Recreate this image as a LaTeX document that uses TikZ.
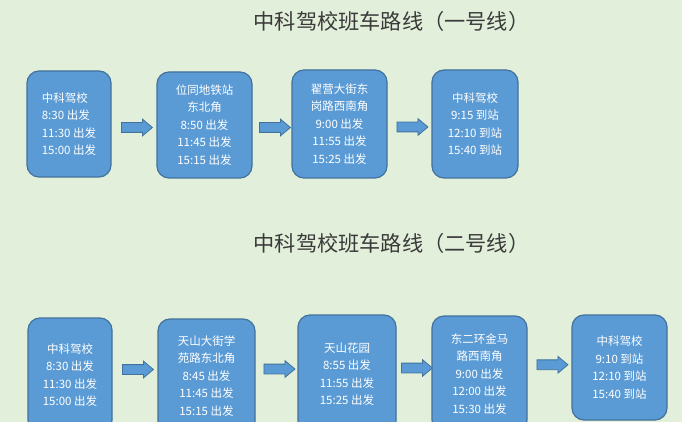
\documentclass[tikz,border=0pt]{standalone}
\usepackage{fontspec}
\setmainfont{Noto Sans CJK SC}
\usetikzlibrary{calc,shapes.arrows}
\definecolor{paper}{HTML}{E2EFDA}
\definecolor{boxblue}{HTML}{5B9BD5}
\definecolor{boxedge}{HTML}{41719C}
\definecolor{ink}{HTML}{3A3A3A}

\begin{document}
\begin{tikzpicture}[x=1pt,y=-1pt,
  stopbox/.style={draw=boxedge,line width=1.2pt,fill=boxblue,rounded corners=12pt,text=white,align=center,inner sep=0pt,font=\fontsize{11.5}{17.5}\selectfont},
  hop/.style={single arrow,draw=boxedge,line width=0.8pt,fill=boxblue,inner xsep=0pt,inner ysep=4.5pt,minimum height=31pt,single arrow head extend=3.5pt,single arrow tip angle=80},
  headline/.style={text=ink,font=\fontsize{21.2}{25}\selectfont}]
  \fill[paper] (0,0) rectangle (682,422);
  \useasboundingbox (0,0) rectangle (682,422);
  \clip (0,0) rectangle (682,422);
  % line 1
  \node[headline] (t1) at (391.5,21) {中科驾校班车路线（一号线）};
  \node[stopbox,align=left,minimum width=84pt,minimum height=106pt] (a1) at (69,124) {中科驾校\\8:30 出发\\11:30 出发\\15:00 出发};
  \node[stopbox,minimum width=95pt,minimum height=106pt] (a2) at (204.5,125) {位同地铁站\\东北角\\8:50 出发\\11:45 出发\\15:15 出发};
  \node[stopbox,minimum width=95pt,minimum height=108pt] (a3) at (339.5,124) {翟营大街东\\岗路西南角\\9:00 出发\\11:55 出发\\15:25 出发};
  \node[stopbox,minimum width=86pt,minimum height=108pt] (a4) at (475,124) {中科驾校\\9:15 到站\\12:10 到站\\15:40 到站};
  \foreach \s/\t in {a1/a2,a2/a3,a3/a4}
    \node[hop,yshift=-3pt] (\s\t) at ($(\s.east)!.5!(\t.west)$) {};
  % line 2
  \node[headline] (t2) at (391.5,243) {中科驾校班车路线（二号线）};
  \node[stopbox,minimum width=84pt,minimum height=114pt] (b1) at (70,375) {中科驾校\\8:30 出发\\11:30 出发\\15:00 出发};
  \node[stopbox,minimum width=97pt,minimum height=114pt] (b2) at (206.5,376) {天山大街学\\苑路东北角\\8:45 出发\\11:45 出发\\15:15 出发};
  \node[stopbox,minimum width=98pt,minimum height=118pt] (b3) at (347,374) {天山花园\\8:55 出发\\11:55 出发\\15:25 出发};
  \node[stopbox,minimum width=95pt,minimum height=116pt] (b4) at (479.5,374) {东二环金马\\路西南角\\9:00 出发\\12:00 出发\\15:30 出发};
  \node[stopbox,minimum width=95pt,minimum height=105pt] (b5) at (619.5,367.5) {中科驾校\\9:10 到站\\12:10 到站\\15:40 到站};
  \foreach \s/\t in {b1/b2,b2/b3,b3/b4,b4/b5}
    \node[hop,yshift=6pt] (\s\t) at ($(\s.east)!.5!(\t.west)$) {};
\end{tikzpicture}
\end{document}
